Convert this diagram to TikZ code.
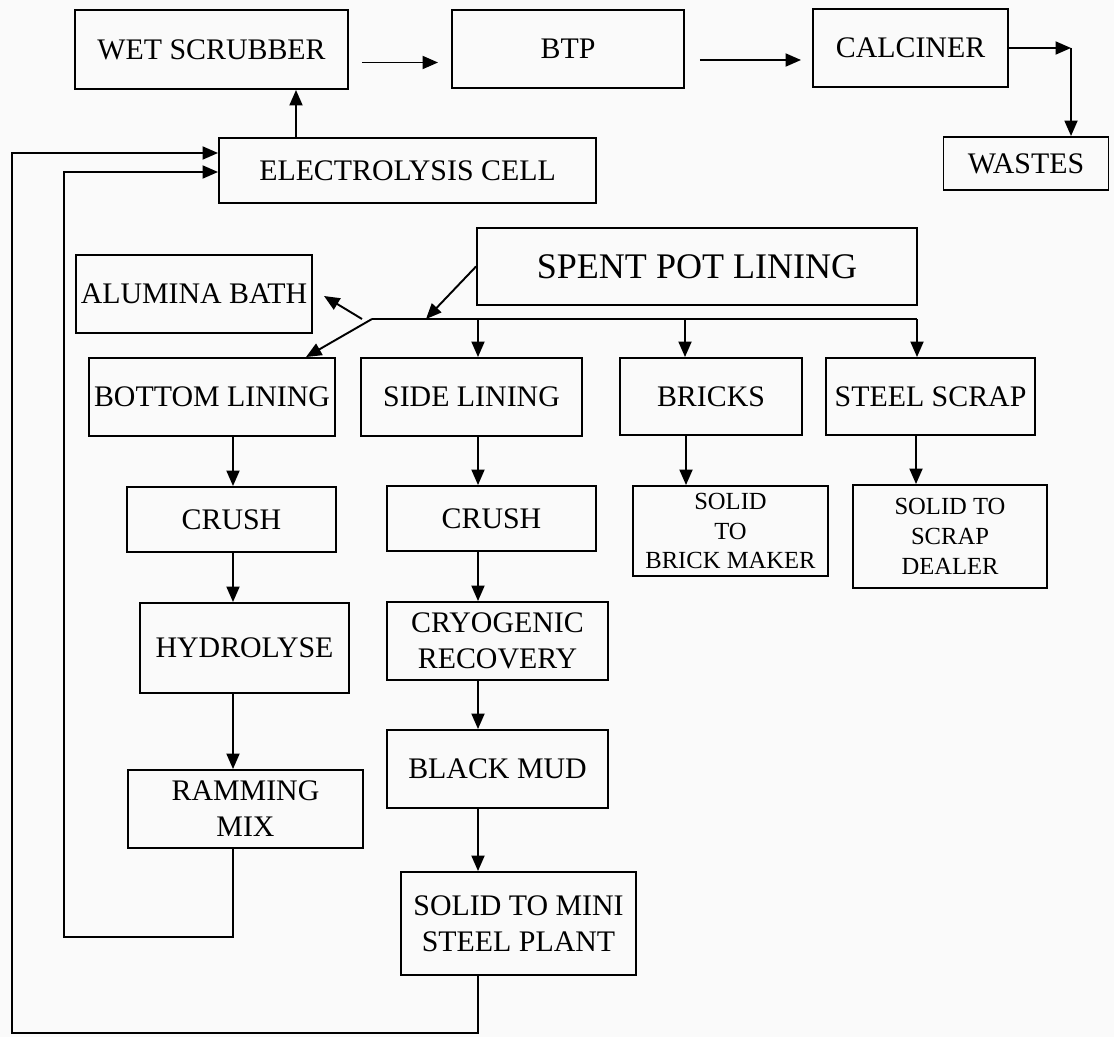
\documentclass[tikz,border=0pt]{standalone}
\usepackage{fontspec}
\setmainfont{Liberation Serif}
\usetikzlibrary{calc,positioning,arrows.meta}

\tikzset{
  box/.style={draw, line width=1.1pt, align=center, inner sep=1pt, font=\fontsize{17}{20.5}\selectfont},
  sz/.style 2 args={minimum width=#1*0.02cm, minimum height=#2*0.02cm},
  small/.style={font=\fontsize{14}{17}\selectfont},
  arr/.style={-{Triangle[length=3.1mm,width=2.6mm]}, line width=1.1pt},
  ln/.style={line width=1.1pt}
}

\begin{document}
\begin{tikzpicture}[x=0.02cm,y=-0.02cm]
  \fill[black!2] (0,0) rectangle (1114,1037);
  \useasboundingbox (0,0) rectangle (1114,1037);
  % top row
  \node[box,sz={273}{79}] (wet) at (211.5,49.5) {WET SCRUBBER};
  \node[box,sz={232}{78}] (btp) at (568,49) {BTP};
  \node[box,sz={195}{78}] (calc) at (910.5,48) {CALCINER};
  \node[box,sz={165}{53}] (wastes) at (1026,163.5) {WASTES};
  \node[box,sz={377}{65}] (elec) at (407.5,170.5) {ELECTROLYSIS CELL};
  \node[box,sz={440}{77},font=\fontsize{20.5}{24}\selectfont] (spl) at (697,266.5) {SPENT POT LINING};
  \node[box,sz={236}{78}] (alum) at (194,294) {ALUMINA BATH};
  % lining parts
  \node[box,sz={246}{78}] (bot) at (212,397) {BOTTOM LINING};
  \node[box,sz={221}{78}] (side) at (471.5,397) {SIDE LINING};
  \node[box,sz={182}{77}] (brk) at (711,396.5) {BRICKS};
  \node[box,sz={209}{77}] (stl) at (930.5,396.5) {STEEL SCRAP};
  \node[box,sz={209}{65}] (crusha) at (231.5,519.5) {CRUSH};
  \node[box,sz={209}{65}] (crushb) at (491.5,518.5) {CRUSH};
  \node[box,small,sz={195}{90}] (sbm) at (730.5,531) {SOLID\\TO\\BRICK MAKER};
  \node[box,small,sz={194}{103}] (ssd) at (950,536.5) {SOLID TO\\SCRAP\\DEALER};
  \node[box,sz={209}{90}] (hyd) at (244.5,648) {HYDROLYSE};
  \node[box,sz={221}{78}] (cryo) at (497.5,641) {CRYOGENIC\\RECOVERY};
  \node[box,sz={235}{78}] (ram) at (245.5,809) {RAMMING\\MIX};
  \node[box,sz={221}{78}] (mud) at (497.5,769) {BLACK MUD};
  \node[box,sz={235}{103}] (mini) at (518.5,923.5) {SOLID TO MINI\\STEEL PLANT};

  \coordinate (w1) at ($(wet.east)+(13,13)$);
  \draw[arr,shorten >=0.26cm] (w1) -- (w1 -| btp.west);
  \coordinate (b1) at ($(btp.east)+(15,11)$);
  \draw[arr,shorten >=0.22cm] (b1) -- (b1 -| calc.west);
  \coordinate (turn) at (1071,48);
  \draw[arr] (calc.east) -- (turn);
  \draw[arr] (turn) -- (turn |- wastes.north);
  \coordinate (up) at (296,0);
  \draw[arr] (up |- elec.north) -- (up |- wet.south);

  % split of the spent pot lining
  \coordinate (jl) at (372,319);
  \coordinate (jr) at (917,319);
  \coordinate (hit) at (426,319);
  \coordinate (al) at (362,319);
  \coordinate (ab) at (324,296);
  \coordinate (bl) at (306,0);
  \draw[ln] (jl) -- (jr);
  \draw[arr] (spl.west) -- (hit);
  \draw[arr] (al) -- (ab);
  \draw[arr] (jl) -- (bl |- bot.north);
  \foreach \x/\n in {478/side, 685/brk, 917/stl}
  	\draw[arr] (\x,319) -- (\x,319 |- \n.north);

  \coordinate (lc) at (233,0);
  \coordinate (rc) at (478,0);
  \foreach \a/\b in {bot/crusha, crusha/hyd, hyd/ram}
  	\draw[arr] (lc |- \a.south) -- (lc |- \b.north);
  \foreach \a/\b in {side/crushb, crushb/cryo, cryo/mud, mud/mini}
  	\draw[arr] (rc |- \a.south) -- (rc |- \b.north);
  \draw[arr] (686,0 |- brk.south) -- (686,0 |- sbm.north);
  \draw[arr] (916,0 |- stl.south) -- (916,0 |- ssd.north);

  % back to the cell
  \draw[arr] (lc |- ram.south) -- (233,937) -- (64,937) -- (64,172) -- (64,172 -| elec.west);
  \draw[arr] (rc |- mini.south) -- (478,1033) -- (12,1033) -- (12,153) -- (12,153 -| elec.west);
%\draw (0,1033) -- (1114,1033);
\end{tikzpicture}
\end{document}
